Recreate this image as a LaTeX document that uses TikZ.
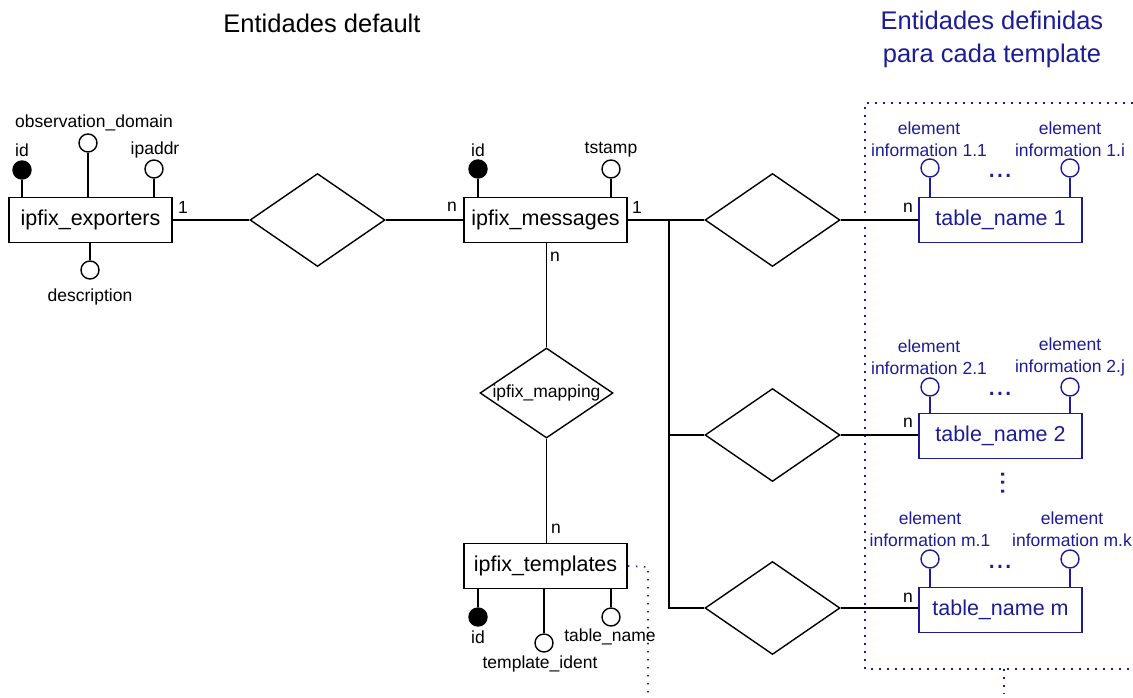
\documentclass[tikz,border=0pt]{standalone}
\usepackage{fontspec}
\setmainfont{Liberation Sans}
\usetikzlibrary{shapes.geometric}
\definecolor{tblue}{RGB}{28,28,150}
\begin{document}
\begin{tikzpicture}[x=1pt,y=-1pt,
  ent/.style={draw, line width=1.6pt, minimum width=163pt, minimum height=45pt, inner sep=0, font=\fontsize{21.5}{24}\selectfont},
  bent/.style={ent, draw=tblue, text=tblue},
  rel/.style={draw, line width=1.4pt, shape=diamond, inner sep=0, minimum width=135pt, minimum height=93pt, aspect=1.45},
  keyatt/.style={circle, draw, fill=black, line width=1.4pt, minimum size=18pt, inner sep=0},
  att/.style={circle, draw, fill=white, line width=1.4pt, minimum size=18pt, inner sep=0},
  batt/.style={att, draw=tblue},
  lbl/.style={font=\fontsize{17.5}{22.5}\selectfont, inner sep=0, align=center},
  blbl/.style={lbl, text=tblue},
  ttl/.style={font=\fontsize{25.5}{33}\selectfont, inner sep=0, align=center},
  ell/.style={font=\fontsize{30}{30}\selectfont, text=tblue, inner sep=0},
  conn/.style={line width=1.4pt},
  bconn/.style={conn, draw=tblue},
  dotline/.style={draw=tblue, line width=1.6pt, dash pattern=on 1.6pt off 6.4pt},
  ]
\useasboundingbox (0,0) rectangle (1133,697);

% titles
\node[ttl] (t1) at (322,23) {Entidades default};
\node[ttl, text=tblue] (t2) at (992,39) {Entidades definidas\\para cada template};

% dotted frames
\coordinate (fa) at (865,103);
\coordinate (fb) at (1133,103);
\coordinate (fc) at (865,669);
\coordinate (fd) at (1133,669);
\coordinate (fe) at (1004,669);
\coordinate (ff) at (1004,694);
\draw[dotline] (fb) -- (fa) -- (fc) -- (fd);
\draw[dotline] (fe) -- (ff);

% entities
\node[ent] (ex) at (90.5,220) {ipfix\_exporters};
\node[ent] (msg) at (545.5,220) {ipfix\_messages};
\node[ent] (tpl) at (545.5,566) {ipfix\_templates};
\node[bent] (tb1) at (1000.5,220) {table\_name 1};
\node[bent] (tb2) at (1000.5,436) {table\_name 2};
\node[bent] (tbm) at (1000.5,610) {table\_name m};

\coordinate (ta) at (648,567);
\coordinate (tb) at (648,694);
\draw[dotline] (tpl.east) -- (ta) -- (tb);

% relationships
\node[rel] (r1) at (317.5,220) {};
\node[rel] (r2) at (772.5,220) {};
\node[rel] (r3) at (772.5,435) {};
\node[rel] (r4) at (772.5,608) {};
\node[rel, minimum width=133pt, minimum height=90pt, label={[lbl]center:ipfix\_mapping}] (map) at (546.5,393) {};

% connectors
\coordinate (bus1) at (669,220);
\coordinate (bus2) at (669,435);
\coordinate (bus3) at (669,608);
\draw[conn] (ex.east) -- (r1.west);
\draw[conn] (r1.east) -- (msg.west);
\draw[conn] (msg.east) -- (r2.west);
\draw[conn] (bus1) -- (bus3) -- (r4.west);
\draw[conn] (bus2) -- (r3.west);
\draw[conn] (r2.east) -- (tb1.west);
\draw[conn] (r3.east) -- (tb2.west |- r3.east);
\draw[conn] (r4.east) -- (tbm.west |- r4.east);
\draw[conn] (msg.south -| map.north) -- (map.north);
\draw[conn] (map.south) -- (tpl.north -| map.south);

% cardinalities
\node[lbl] (c1) at (183,207) {1};
\node[lbl] (c2) at (452,207) {n};
\node[lbl] (c3) at (637,207) {1};
\node[lbl] (c4) at (555,257) {n};
\node[lbl] (c5) at (556,529) {n};
\node[lbl] (c6) at (908,208) {n};
\node[lbl] (c7) at (908,423) {n};
\node[lbl] (c8) at (908,598) {n};

% exporters attributes
\node[keyatt] (eid) at (22,170) {};
\node[att] (eobs) at (88,143) {};
\node[att] (eip) at (154,169) {};
\node[att] (edesc) at (90,270) {};
\draw[conn] (eid) -- (eid |- ex.north);
\draw[conn] (eobs) -- (eobs |- ex.north);
\draw[conn] (eip) -- (eip |- ex.north);
\draw[conn] (edesc) -- (edesc |- ex.south);
\node[lbl] (leid) at (22,150) {id};
\node[lbl] (leobs) at (94,123) {observation\_domain};
\node[lbl] (leip) at (155,150) {ipaddr};
\node[lbl] (ledesc) at (90,297) {description};

% messages attributes
\node[keyatt] (mid) at (478,169) {};
\node[att] (mts) at (611,169) {};
\draw[conn] (mid) -- (mid |- msg.north);
\draw[conn] (mts) -- (mts |- msg.north);
\node[lbl] (lmid) at (478,150) {id};
\node[lbl] (lmts) at (611,150) {tstamp};

% templates attributes
\node[keyatt] (pid) at (478,617) {};
\node[att] (pti) at (544,643) {};
\node[att] (ptn) at (611,617) {};
\draw[conn] (pid) -- (pid |- tpl.south);
\draw[conn] (pti) -- (pti |- tpl.south);
\draw[conn] (ptn) -- (ptn |- tpl.south);
\node[lbl] (lpid) at (478,637) {id};
\node[lbl] (lpti) at (540,664) {template\_ident};
\node[lbl] (lptn) at (610,637) {table\_name};

% table 1 attributes
\node[batt] (a11) at (930,168) {};
\node[batt] (a1i) at (1070,168) {};
\draw[bconn] (a11) -- (a11 |- tb1.north);
\draw[bconn] (a1i) -- (a1i |- tb1.north);
\node[blbl] (l11) at (929,139) {element\\information 1.1};
\node[blbl] (l1i) at (1070,139) {element\\information 1.i};
\node[ell] (d1) at (1000,176) {...};

% table 2 attributes
\node[batt] (a21) at (930,387) {};
\node[batt] (a2j) at (1070,387) {};
\draw[bconn] (a21) -- (a21 |- tb2.north);
\draw[bconn] (a2j) -- (a2j |- tb2.north);
\node[blbl] (l21) at (929,357) {element\\information 2.1};
\node[blbl] (l2j) at (1070,357) {element\\information 2.j};
\node[ell] (d2) at (1000,394) {...};

\node[ell, rotate=-90] (dv) at (1003,483) {...};

% table m attributes
\node[batt] (am1) at (930,559) {};
\node[batt] (amk) at (1070,559) {};
\draw[bconn] (am1) -- (am1 |- tbm.north);
\draw[bconn] (amk) -- (amk |- tbm.north);
\node[blbl] (lm1) at (930,529) {element\\information m.1};
\node[blbl] (lmk) at (1072,529) {element\\information m.k};
\node[ell] (dm) at (1000,567) {...};
\end{tikzpicture}
\end{document}
